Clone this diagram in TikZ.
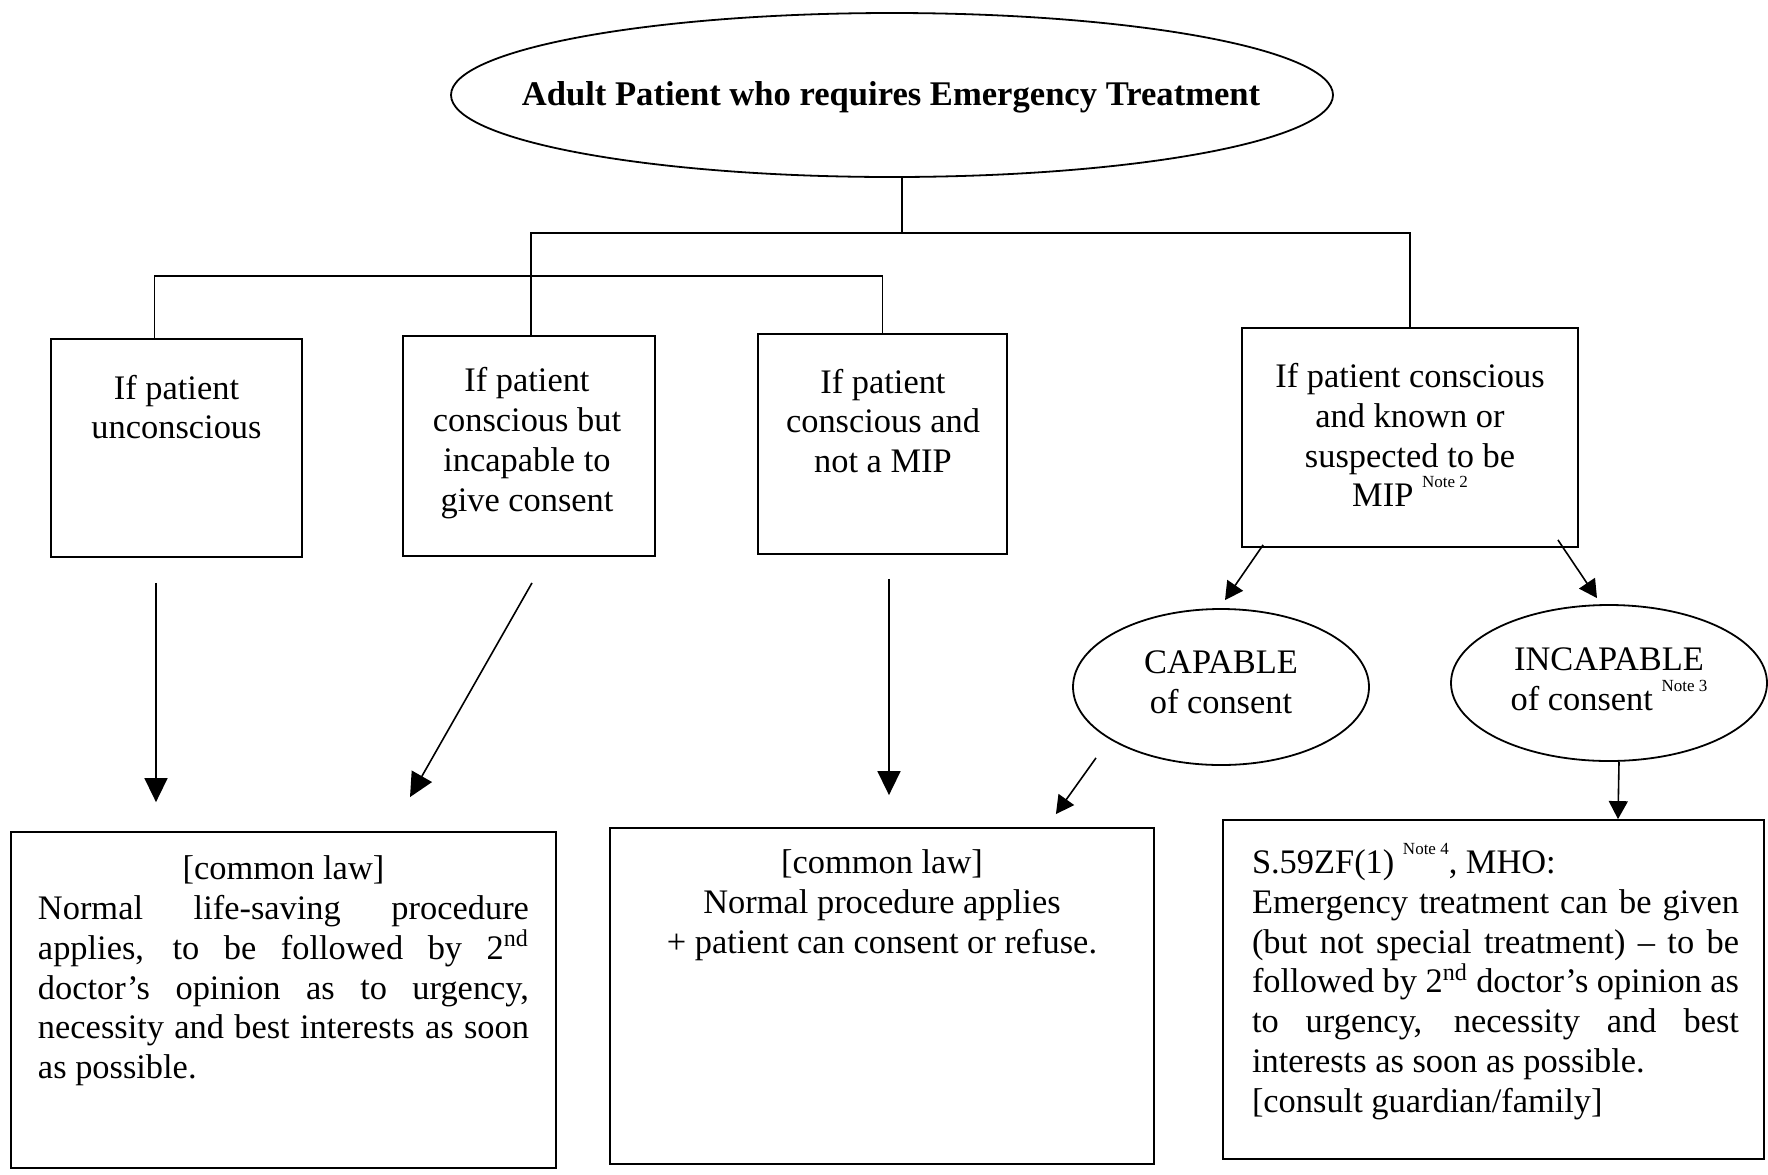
\documentclass[tikz,border=0pt]{standalone}
\usepackage{fontspec}
\setmainfont{Liberation Serif}
\usetikzlibrary{shapes.geometric,arrows.meta}
\newcommand\mysup[1]{\raisebox{0.55em}{\fontsize{8.5}{9}\selectfont #1}}
\begin{document}
\begin{tikzpicture}[x=0.5pt,y=-0.5pt,
  every node/.style={font=\fontsize{17.2}{19.9}\selectfont},
  box/.style={draw, line width=0.9pt, rectangle, inner sep=0pt},
  oval/.style={draw, line width=0.9pt, ellipse, inner sep=0pt},
  txt/.style={align=center, inner sep=0pt},
  link/.style={line width=0.9pt},
  arr/.style={line width=0.8pt, -{Triangle[length=12pt,width=11.5pt]}},
  sarr/.style={line width=0.8pt, -{Triangle[length=9pt,width=9.5pt]}}]
\useasboundingbox (0,0) rectangle (1768,1174);

% top ellipse
\node[oval, minimum width=441pt, minimum height=82pt] (top) at (892,95) {};
\node[txt, font=\fontsize{17.3}{20}\selectfont\bfseries] (ttop) at (891,97) {Adult Patient who requires Emergency Treatment};

% first-level boxes
\node[box, minimum width=125.5pt, minimum height=109pt] (b1) at (176.5,448) {};
\node[txt] (t1) at (176.5,407) {If patient\\unconscious};
\node[box, minimum width=126pt, minimum height=110pt] (b2) at (529,446) {};
\node[txt] (t2) at (527,443) {If patient\\conscious but\\incapable to\\give consent};
\node[box, minimum width=124.5pt, minimum height=110pt] (b3) at (882.5,444) {};
\node[txt] (t3) at (883,421) {If patient\\conscious and\\not a MIP};
\node[box, minimum width=168pt, minimum height=109.5pt] (b4) at (1410,437.5) {};
\node[txt] (t4) at (1410,435) {If patient conscious\\and known or\\suspected to be\\MIP \mysup{Note 2}};

% consent ellipses
\node[oval, minimum width=148pt, minimum height=78pt] (cap) at (1221,687) {};
\node[txt] (tcap) at (1221,682) {CAPABLE\\of consent};
\node[oval, minimum width=158pt, minimum height=78pt] (inc) at (1609,683) {};
\node[txt] (tinc) at (1609,679) {INCAPABLE\\of consent \mysup{Note 3}};

% bottom boxes
\node[box, minimum width=272.5pt, minimum height=168pt] (bl) at (283.5,1000) {};
\node[txt, align=left] (tbl) at (283.5,971) {%
\makebox[245.5pt][c]{[common law]}\\
\makebox[245.5pt][s]{Normal life-saving procedure}\\
\makebox[245.5pt][s]{applies, to be followed by 2\textsuperscript{nd}}\\
\makebox[245.5pt][s]{doctor's opinion as to urgency,}\\
\makebox[245.5pt][s]{necessity and best interests as soon}\\
\makebox[245.5pt][l]{as possible.}};

\node[box, minimum width=272pt, minimum height=168pt] (bm) at (882,996) {};
\node[txt] (tbm) at (882,905.5) {[common law]\\Normal procedure applies\\+ patient can consent or refuse.};

\node[box, minimum width=270.5pt, minimum height=169.5pt] (br) at (1493.5,989.5) {};
\node[txt, align=left] (tbr) at (1495.5,981.5) {%
\makebox[243.5pt][l]{S.59ZF(1) \mysup{Note 4}, MHO:}\\
\makebox[243.5pt][s]{Emergency treatment can be given}\\
\makebox[243.5pt][s]{(but not special treatment) -- to be}\\
\makebox[243.5pt][s]{followed by 2\textsuperscript{nd} doctor's opinion as}\\
\makebox[243.5pt][s]{to urgency, necessity and best}\\
\makebox[243.5pt][l]{interests as soon as possible.}\\
\makebox[243.5pt][l]{[consult guardian/family]}};

% tree connectors
\coordinate (j1) at (902,233);
\coordinate (j2) at (531,276);
\draw[link] (top.south -| j1) -- (j1);
\draw[link] (b2.north -| j2) |- (j1) -| (b4.north);
\draw[link] ([xshift=-11pt]b1.north) |- (j2) -| (b3.north);

% arrows
\draw[arr] ([shift={(-10.25pt,-12.5pt)}]b1.south) -- ([shift={(-63.75pt,14.5pt)}]bl.north);
\draw[arr] ([shift={(1.5pt,-13pt)}]b2.south) -- ([shift={(63.25pt,17pt)}]bl.north);
\draw[arr] ([shift={(3.25pt,-12pt)}]b3.south) -- ([shift={(3.5pt,16pt)}]bm.north);
\draw[sarr] ([shift={(11pt,1.5pt)}]b4.south west) -- ([shift={(2pt,4pt)}]cap.north);
\draw[sarr] ([shift={(-10.5pt,4pt)}]b4.south east) -- ([shift={(-6pt,3pt)}]inc.north);
\draw[sarr] ([shift={(-62.5pt,4pt)}]cap.south) -- ([shift={(-49.5pt,6.5pt)}]bm.north east);
\draw[sarr] ([xshift=5pt]inc.south) -- ([xshift=62.25pt]br.north);
\end{tikzpicture}
\end{document}
